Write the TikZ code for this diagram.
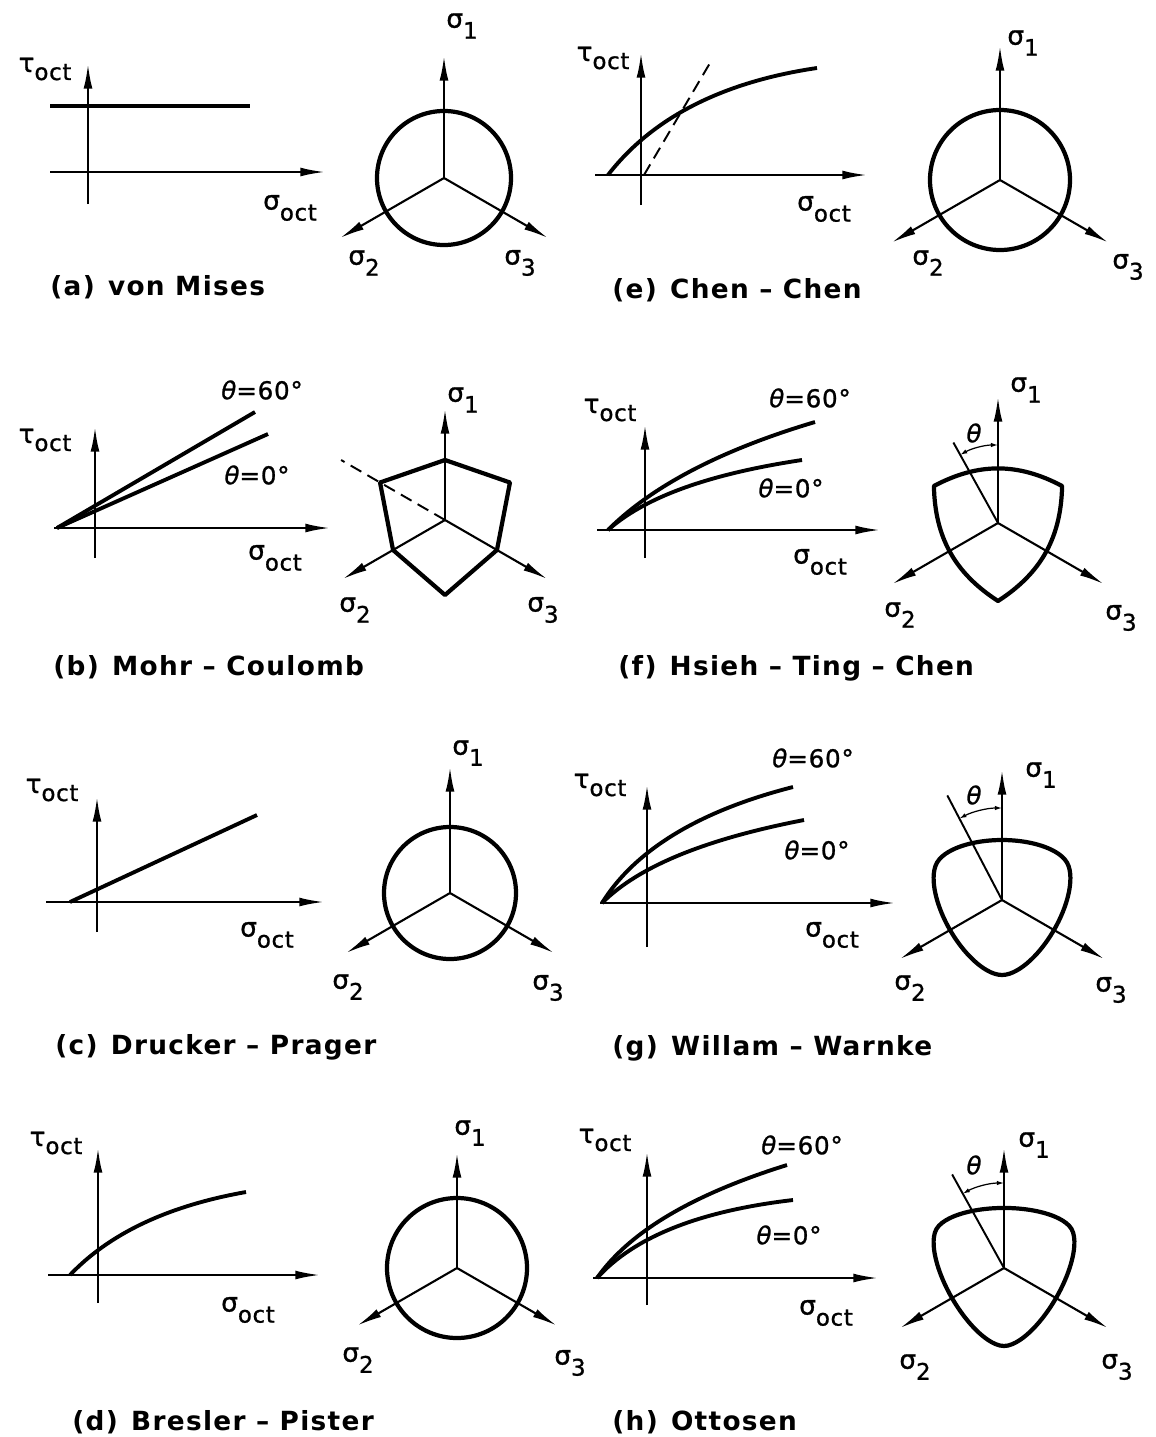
\documentclass[tikz,border=0pt]{standalone}
\usepackage{fontspec}
\setmainfont{DejaVu Sans}[LetterSpace=5]
\newfontfamily\lblfont{DejaVu Sans}[LetterSpace=3,FakeBold=1]
\usetikzlibrary{arrows.meta}
\newcommand{\sg}[1]{σ\raisebox{-0.42em}{\fontsize{13}{13}\selectfont #1}}
\newcommand{\tauoct}{τ\raisebox{-0.3em}{\fontsize{13}{13}\selectfont oct}}
\newcommand{\thq}[1]{{\itshape θ}=#1°}

\tikzset{
  ax/.style={line width=1.2pt,-{Latex[length=14pt,width=5pt]}},
  tick/.style={line width=1.1pt},
  crv/.style={line width=2.2pt},
  surf/.style={line width=2.4pt,line join=round},
  lbl/.style={font=\lblfont\fontsize{15}{15}\selectfont,inner sep=0pt},
  thl/.style={font=\lblfont\fontsize{14}{14}\selectfont,inner sep=0pt},
  captxt/.style={font=\fontsize{15}{15}\selectfont\bfseries,anchor=west,inner sep=0pt},
  ang/.style={line width=0.7pt,{Latex[length=4pt,width=2.5pt]}-{Latex[length=4pt,width=2.5pt]}},
  declare function={
    wwc(\p)=cos(acos(max(-1,min(1,cos(3*(\p-90)))))/3);
    wwr(\p,\k)=(2*(1-\k*\k)*wwc(\p)+(2*\k-1)*sqrt(4*(1-\k*\k)*wwc(\p)*wwc(\p)+5*\k*\k-4*\k))/(4*(1-\k*\k)*wwc(\p)*wwc(\p)+(1-2*\k)*(1-2*\k));
  }
}

\begin{document}
\begin{tikzpicture}[x=0.02cm,y=0.02cm]
\useasboundingbox (0,-1437) rectangle (1156,0);

% (a) von Mises
\begin{scope}[shift={(88,-172)}]
  \draw[ax] (0,-32) -- (0,108);
  \draw[ax] (-38,0) -- (237,0);
  \draw[crv] (-38,66) -- (162,66);
  \node[lbl] (tauA) at (-43,103) {\tauoct};
  \node[lbl] (sigA) at (202,-36) {\sg{oct}};
\end{scope}
\begin{scope}[shift={(444,-178)}]
  \draw[surf] (0,0) circle[radius=67];
  \draw[ax] (0,0) -- (90:122);
  \draw[ax] (0,0) -- (210:120);
  \draw[ax] (0,0) -- (330:120);
  \node[lbl] (s1A) at (18,152) {\sg{1}};
  \node[lbl] (s2A) at (-80,-85) {\sg{2}};
  \node[lbl] (s3A) at (76,-85) {\sg{3}};
\end{scope}
\node[captxt] (capA) at (50,-287) {(a)\hspace{0.5em}von Mises};

% (e) Chen-Chen
\begin{scope}[shift={(641,-175)}]
  \draw[ax] (0,-30) -- (0,122);
  \draw[ax] (-46,0) -- (226,0);
  \draw[crv] (-33,0) .. controls (11,57) and (81,93) .. (176,107);
  \draw[tick,dash pattern=on 7pt off 4pt] (3,0) -- (69,112);
  \node[lbl] (tauE) at (-38,117) {\tauoct};
  \node[lbl] (sigE) at (183,-34) {\sg{oct}};
\end{scope}
\begin{scope}[shift={(1000,-180)}]
  \draw[surf] (0,0) circle[radius=70];
  \draw[ax] (0,0) -- (90:134);
  \draw[ax] (0,0) -- (210:125);
  \draw[ax] (0,0) -- (330:125);
  \node[lbl] (s1E) at (23,137) {\sg{1}};
  \node[lbl] (s2E) at (-72,-83) {\sg{2}};
  \node[lbl] (s3E) at (128,-87) {\sg{3}};
\end{scope}
\node[captxt] (capE) at (612,-290) {(e)\hspace{0.5em}Chen – Chen};

% (b) Mohr-Coulomb
\begin{scope}[shift={(95,-528)}]
  \draw[ax] (0,-30) -- (0,101);
  \draw[ax] (-41,0) -- (235,0);
  \draw[crv] (-38,0) -- (160,116);
  \draw[crv] (-38,0) -- (173,94);
  \node[thl] (t60B) at (167,138) {\thq{60}};
  \node[thl] (t0B) at (162,53) {\thq{0}};
  \node[lbl] (tauB) at (-50,88) {\tauoct};
  \node[lbl] (sigB) at (180,-30) {\sg{oct}};
\end{scope}
\begin{scope}[shift={(445,-520)}]
  \draw[surf] (90:60) -- (30:75) -- (330:60) -- (270:75) -- (210:60) -- (150:75) -- cycle;
  \draw[tick,dash pattern=on 7pt off 4pt] (0,0) -- (150:120);
  \draw[ax] (0,0) -- (90:111);
  \draw[ax] (0,0) -- (210:118);
  \draw[ax] (0,0) -- (330:118);
  \node[lbl] (s1B) at (18,120) {\sg{1}};
  \node[lbl] (s2B) at (-90,-90) {\sg{2}};
  \node[lbl] (s3B) at (98,-90) {\sg{3}};
\end{scope}
\node[captxt] (capB) at (53,-667) {(b)\hspace{0.5em}Mohr – Coulomb};

% (f) Hsieh-Ting-Chen
\begin{scope}[shift={(645,-530)}]
  \draw[ax] (0,-28) -- (0,105);
  \draw[ax] (-48,0) -- (235,0);
  \draw[crv] (-37,0) .. controls (7,44) and (76,80) .. (170,108);
  \draw[crv] (-37,0) .. controls (0,33) and (64,56) .. (157,70);
  \node[thl] (t60F) at (165,132) {\thq{60}};
  \node[thl] (t0F) at (146,42) {\thq{0}};
  \node[lbl] (tauF) at (-35,120) {\tauoct};
  \node[lbl] (sigF) at (175,-32) {\sg{oct}};
\end{scope}
\begin{scope}[shift={(998,-523)}]
  \draw[surf] (150:74) to[bend left=28] (30:74) to[bend left=28] (270:78) to[bend left=28] cycle;
  \draw[tick] (0,0) -- (119:92);
  \draw[ang] (119:78) arc[start angle=119,end angle=90,radius=78];
  \node[thl] (thF) at (-24,90) {\itshape θ};
  \draw[ax] (0,0) -- (90:126);
  \draw[ax] (0,0) -- (210:122);
  \draw[ax] (0,0) -- (330:122);
  \node[lbl] (s1F) at (28,133) {\sg{1}};
  \node[lbl] (s2F) at (-98,-92) {\sg{2}};
  \node[lbl] (s3F) at (123,-95) {\sg{3}};
\end{scope}
\node[captxt] (capF) at (618,-668) {(f)\hspace{0.5em}Hsieh – Ting – Chen};

% (c) Drucker-Prager
\begin{scope}[shift={(97,-902)}]
  \draw[ax] (0,-30) -- (0,105);
  \draw[ax] (-51,0) -- (227,0);
  \draw[crv] (-27,0) -- (160,87);
  \node[lbl] (tauC) at (-45,112) {\tauoct};
  \node[lbl] (sigC) at (170,-33) {\sg{oct}};
\end{scope}
\begin{scope}[shift={(450,-893)}]
  \draw[surf] (0,0) circle[radius=66];
  \draw[ax] (0,0) -- (90:126);
  \draw[ax] (0,0) -- (210:120);
  \draw[ax] (0,0) -- (330:120);
  \node[lbl] (s1C) at (18,140) {\sg{1}};
  \node[lbl] (s2C) at (-102,-94) {\sg{2}};
  \node[lbl] (s3C) at (98,-95) {\sg{3}};
\end{scope}
\node[captxt] (capC) at (55,-1047) {(c)\hspace{0.5em}Drucker – Prager};

% (g) Willam-Warnke
\begin{scope}[shift={(647,-903)}]
  \draw[ax] (0,-44) -- (0,118);
  \draw[ax] (-47,0) -- (248,0);
  \draw[crv] (-45,0) .. controls (-12,53) and (52,92) .. (146,116);
  \draw[crv] (-45,0) .. controls (-8,37) and (59,64) .. (157,83);
  \node[thl] (t60G) at (166,145) {\thq{60}};
  \node[thl] (t0G) at (170,53) {\thq{0}};
  \node[lbl] (tauG) at (-47,118) {\tauoct};
  \node[lbl] (sigG) at (185,-32) {\sg{oct}};
\end{scope}
\begin{scope}[shift={(1002,-900)}]
  \draw[surf] plot[domain=0:357,samples=120] (\x:{75*wwr(\x,0.8)}) -- cycle;
  \draw[tick] (0,0) -- (117.6:118);
  \draw[ang] (117.6:92) arc[start angle=117.6,end angle=90,radius=92];
  \node[thl] (thG) at (-28,105) {\itshape θ};
  \draw[ax] (0,0) -- (90:130);
  \draw[ax] (0,0) -- (210:118);
  \draw[ax] (0,0) -- (330:118);
  \node[lbl] (s1G) at (39,125) {\sg{1}};
  \node[lbl] (s2G) at (-92,-88) {\sg{2}};
  \node[lbl] (s3G) at (109,-90) {\sg{3}};
\end{scope}
\node[captxt] (capG) at (612,-1048) {(g)\hspace{0.5em}Willam – Warnke};

% (d) Bresler-Pister
\begin{scope}[shift={(98,-1275)}]
  \draw[ax] (0,-28) -- (0,127);
  \draw[ax] (-50,0) -- (222,0);
  \draw[crv] (-28,0) .. controls (11,41) and (69,69) .. (148,83);
  \node[lbl] (tauD) at (-42,132) {\tauoct};
  \node[lbl] (sigD) at (150,-35) {\sg{oct}};
\end{scope}
\begin{scope}[shift={(457,-1268)}]
  \draw[surf] (0,0) circle[radius=70];
  \draw[ax] (0,0) -- (90:115);
  \draw[ax] (0,0) -- (210:115);
  \draw[ax] (0,0) -- (330:115);
  \node[lbl] (s1D) at (13,135) {\sg{1}};
  \node[lbl] (s2D) at (-99,-92) {\sg{2}};
  \node[lbl] (s3D) at (113,-95) {\sg{3}};
\end{scope}
\node[captxt] (capD) at (72,-1422) {(d)\hspace{0.5em}Bresler – Pister};

% (h) Ottosen
\begin{scope}[shift={(647,-1278)}]
  \draw[ax] (0,-27) -- (0,126);
  \draw[ax] (-54,0) -- (231,0);
  \draw[crv] (-50,0) .. controls (-17,47) and (47,84) .. (140,113);
  \draw[crv] (-50,0) .. controls (-13,41) and (52,67) .. (146,78);
  \node[thl] (t60H) at (155,133) {\thq{60}};
  \node[thl] (t0H) at (142,43) {\thq{0}};
  \node[lbl] (tauH) at (-42,138) {\tauoct};
  \node[lbl] (sigH) at (179,-35) {\sg{oct}};
\end{scope}
\begin{scope}[shift={(1004,-1268)}]
  \draw[surf] plot[domain=0:357,samples=120] (\x:{78*wwr(\x,0.77)}) -- cycle;
  \draw[tick] (0,0) -- (119:107);
  \draw[ang] (119:85) arc[start angle=119,end angle=90,radius=85];
  \node[thl] (thH) at (-30,103) {\itshape θ};
  \draw[ax] (0,0) -- (90:120);
  \draw[ax] (0,0) -- (210:120);
  \draw[ax] (0,0) -- (330:120);
  \node[lbl] (s1H) at (30,123) {\sg{1}};
  \node[lbl] (s2H) at (-89,-99) {\sg{2}};
  \node[lbl] (s3H) at (113,-99) {\sg{3}};
\end{scope}
\node[captxt] (capH) at (612,-1422) {(h)\hspace{0.5em}Ottosen};

\end{tikzpicture}
\end{document}
